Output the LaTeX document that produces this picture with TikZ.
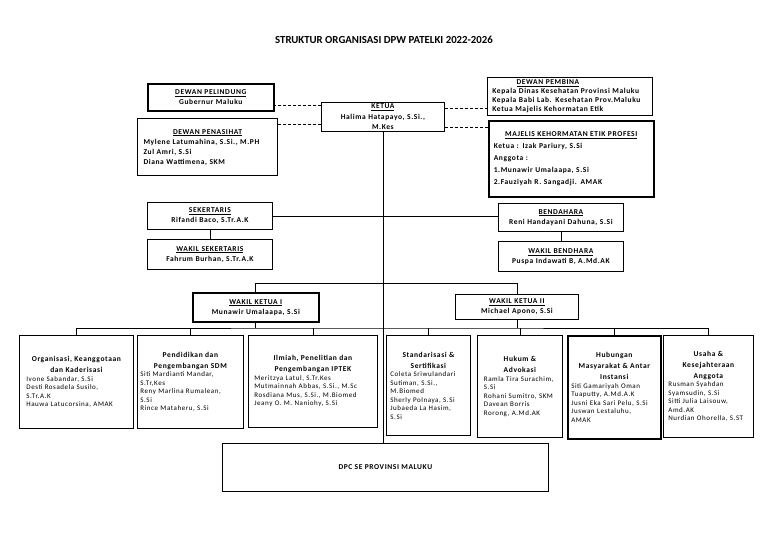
\documentclass[tikz,border=0pt]{standalone}
\usepackage{fontspec}
\setmainfont{Carlito}
\newfontfamily\wide[LetterSpace=8]{Carlito}
\usetikzlibrary{positioning}
\setlength{\parindent}{0pt}

\begin{document}
\begin{tikzpicture}[x=1pt,y=-1pt,
    box/.style={draw, line width=0.8pt, inner xsep=0pt, inner ysep=1pt, anchor=north west,
      font=\wide\fontsize{7.5}{10}\selectfont\bfseries},
    thickbox/.style={box, line width=1.6pt},
    unit/.style={box, font=\wide\fontsize{7}{8.5}\selectfont},
    link/.style={line width=0.7pt},
    dashline/.style={line width=0.7pt, dash pattern=on 3pt off 2pt}]

    \useasboundingbox (0,0) rectangle (768,543);

    % Title
    \node[font=\bfseries\fontsize{10.8}{12}\selectfont] (title) at (384,40) {STRUKTUR ORGANISASI DPW PATELKI 2022-2026};

    % Ketua and the councils
    \node[box, align=center, minimum width=123, minimum height=29, text width=119, inner ysep=0pt,
      font=\wide\fontsize{7.5}{10.5}\selectfont\bfseries] (ketua) at (321,102)
      {\underline{KETUA}\\Halima Hatapayo, S.Si.,\\M.Kes};
    \node[thickbox, align=center, minimum width=126, minimum height=27, text width=120] (pelindung) at (147,83)
      {\underline{DEWAN PELINDUNG}\\Gubernur Maluku};
    \node[box, line width=1.1pt, minimum width=140, minimum height=57, text width=128] (penasihat) at (137,118)
      {{\centering\underline{DEWAN PENASIHAT}\par}\raggedright Mylene Latumahina, S.Si., M.PH\\Zul Amri, S.Si\\Diana Wattimena, SKM};
    \node[box, minimum width=165, minimum height=38, text width=155, font=\wide\fontsize{7.5}{9}\selectfont\bfseries] (pembina) at (487,77)
      {{\centering\underline{DEWAN PEMBINA}\hspace*{44pt}\par}\raggedright Kepala Dinas Kesehatan Provinsi Maluku\\Kepala Babi Lab. Kesehatan Prov.Maluku\\Ketua Majelis Kehormatan Etik};
    \node[thickbox, minimum width=165, minimum height=76, text width=155, font=\wide\fontsize{7.5}{12}\selectfont\bfseries] (majelis) at (488,120)
      {{\centering\underline{MAJELIS KEHORMATAN ETIK PROFESI}\par}\raggedright Ketua : Izak Pariury, S.Si\\Anggota :\\1.Munawir Umalaapa, S.Si\\2.Fauziyah R. Sangadji. AMAK};

    % Sekertaris and Bendahara
    \node[box, align=center, minimum width=125, minimum height=27, text width=119] (sekertaris) at (147,202)
      {\underline{SEKERTARIS}\\Rifandi Baco, S.Tr.A.K};
    \node[box, align=center, minimum width=125, minimum height=30, text width=119, anchor=north, below=9pt of sekertaris] (wsek)
      {\underline{WAKIL SEKERTARIS}\\Fahrum Burhan, S.Tr.A.K};
    \node[box, align=center, minimum width=125, minimum height=28, text width=119] (bendahara) at (498,203)
      {\underline{BENDAHARA}\\Reni Handayani Dahuna, S.Si};
    \node[thickbox, align=center, minimum width=125, minimum height=30, text width=119, anchor=north, below=9pt of bendahara] (wbend)
      {\underline{WAKIL BENDHARA}\\Puspa Indawati B, A.Md.AK};

    % Wakil ketua
    \node[thickbox, align=center, minimum width=126, minimum height=29, text width=120] (wk1) at (192,292)
      {\underline{WAKIL KETUA I}\\Munawir Umalaapa, S.Si};
    \node[box, align=center, minimum width=123, minimum height=25, text width=117] (wk2) at (455,294)
      {\underline{WAKIL KETUA II}\\Michael Apono, S.Si};

    % Bidang
    \newcommand{\bidang}[1]{{\centering\wide\bfseries\fontsize{7.5}{11}\selectfont #1\par}\raggedright}
    \node[unit, minimum width=114, minimum height=93, text width=100] (b1) at (19,335)
      {\bidang{Organisasi, Keanggotaan\\dan Kaderisasi}Ivone Sabandar, S.Si\\Desti Rosadela Susilo,\\S.Tr.A.K\\Hauwa Latucorsina, AMAK};
    \node[unit, minimum width=106, minimum height=93, text width=100] (b2) at (137,335)
      {\bidang{Pendidikan dan\\Pengembangan SDM}Siti Mardianti Mandar,\\S.Tr,Kes\\Reny Marlina Rumalean,\\S.Si\\Rince Mataheru, S.Si};
    \node[unit, minimum width=129, minimum height=92, text width=117] (b3) at (248,335)
      {\bidang{Ilmiah, Penelitian dan\\Pengembangan IPTEK}Meritzya Latul, S.Tr.Kes\\Mutmainnah Abbas, S.Si., M.Sc\\Rosdiana Mus, S.Si., M.Biomed\\Jeany O. M. Naniohy, S.Si};
    \node[unit, minimum width=84, minimum height=100, text width=76] (b4) at (386,335)
      {\bidang{Standarisasi \&\\Sertifikasi}Coleta Sriwulandari\\Sutiman, S.Si.,\\M.Biomed\\Sherly Polnaya, S.Si\\Jubaeda La Hasim,\\S.Si};
    \node[unit, minimum width=85, minimum height=102, text width=72] (b5) at (477,335)
      {\bidang{Hukum \&\\Advokasi}Ramla Tira Surachim,\\S.Si\\Rohani Sumitro, SKM\\Davean Borris\\Rorong, A.Md.AK};
    \node[unit, line width=1.6pt, minimum width=93, minimum height=103, text width=86] (b6) at (567,335)
      {\bidang{Hubungan\\Masyarakat \& Antar\\Instansi}Siti Gamariyah Oman\\Tuaputty, A.Md.A.K\\Jusni Eka Sari Pelu, S.Si\\Juswan Lestaluhu,\\AMAK};
    \node[unit, minimum width=90, minimum height=102, text width=80] (b7) at (663,335)
      {\bidang{Usaha \&\\Kesejahteraan\\Anggota}Rusman Syahdan\\Syamsudin, S.Si\\Sitti Julia Laisouw,\\Amd.AK\\Nurdian Ohorella, S.ST};

    % DPC
    \node[box, minimum width=326, minimum height=48] (dpc) at (222,443) {DPC SE PROVINSI MALUKU};

    % Dashed lines to the councils
    \coordinate (d1) at ([yshift=-3pt]ketua.north west);
    \coordinate (d2) at ([yshift=7pt]ketua.south west);
    \coordinate (d3) at ([yshift=-6pt]ketua.north east);
    \coordinate (d4) at ([yshift=4pt]ketua.south east);
    \draw[dashline] (d1) -- (d1 -| pelindung.east);
    \draw[dashline] (d2) -- (d2 -| penasihat.east);
    \draw[dashline] (d3) -- (d3 -| pembina.west);
    \draw[dashline] (d4) -- (d4 -| majelis.west);

    % Trunk and secretariat
    \draw[link] (ketua.south) -- (ketua.south |- dpc.north);
    \draw[link] (sekertaris.east) -- (sekertaris.east -| bendahara.west);
    \draw[link] (sekertaris.south) -- (wsek.north);
    \draw[link] (bendahara.south) -- (wbend.north);

    % Wakil ketua and bidang
    \draw[link] (wk1.north) -- ++(0,-9) -| (wk2.north);
    \coordinate (bar) at (382,328);
    \draw[link] (b1.north) |- (bar) -| (b7.north);
    \foreach \b in {b2,b3,b4,b5,b6} {
      \draw[link] (\b.north) -- (\b.north |- bar);
    }
    \draw[link] (wk1.south) -- (wk1.south |- bar);
    \draw[link] (wk2.south) -- (wk2.south |- bar);

\end{tikzpicture}
\end{document}
